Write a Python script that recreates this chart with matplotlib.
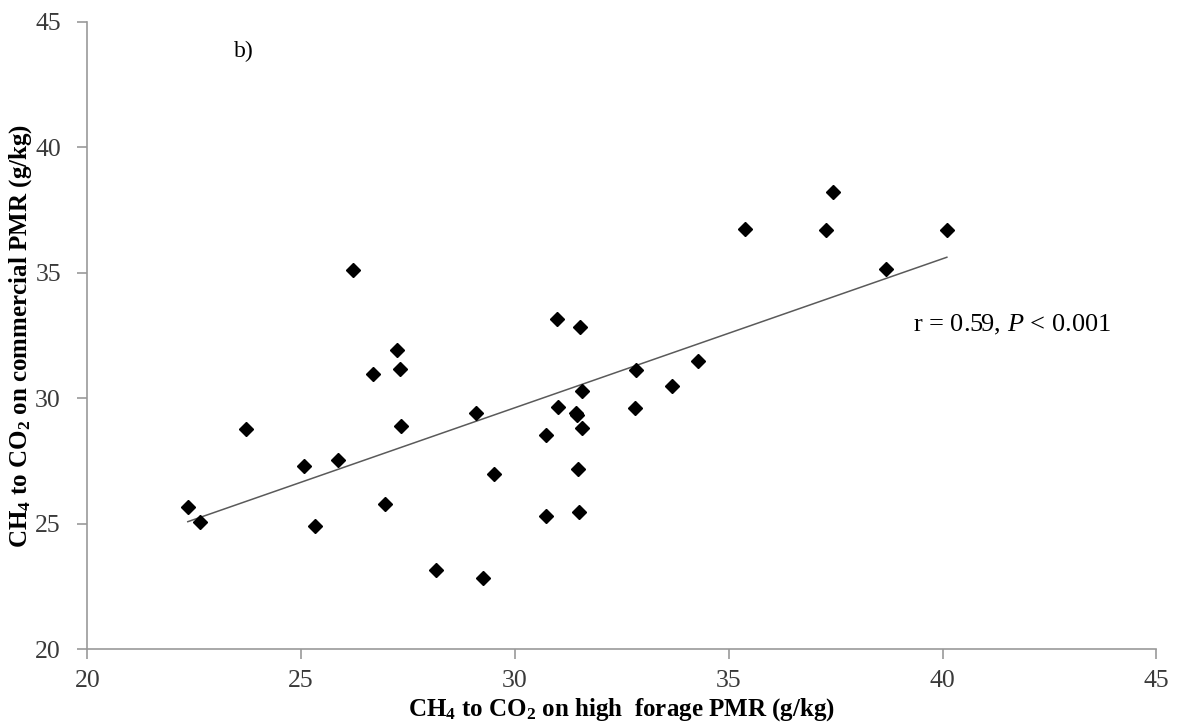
import numpy as np
import matplotlib
matplotlib.use("Agg")
import matplotlib.pyplot as plt

plt.rcParams['font.family'] = ['Liberation Serif', 'DejaVu Serif']
plt.rcParams['mathtext.fontset'] = 'custom'
plt.rcParams['mathtext.rm'] = 'Liberation Serif'
plt.rcParams['mathtext.it'] = 'Liberation Serif:italic'
plt.rcParams['mathtext.bf'] = 'Liberation Serif:bold'

# CH4 to CO2, high forage PMR (x) vs commercial PMR (y), g/kg
high_forage = [22.35, 22.64, 23.71, 25.07, 25.86, 25.33, 26.96, 27.34, 26.21,
               27.25, 27.31, 26.68, 29.09, 30.98, 31.52, 32.83, 34.29, 33.67,
               31.56, 31.00, 31.42, 31.45, 32.81, 31.56, 30.72, 29.51, 31.47,
               30.73, 31.49, 28.15, 29.26, 37.43, 37.27, 40.10, 38.67, 35.39]
commercial = [25.66, 25.06, 28.77, 27.32, 27.52, 24.92, 25.78, 28.88, 35.10,
              31.92, 31.18, 30.95, 29.43, 33.17, 32.84, 31.14, 31.48, 30.50,
              30.27, 29.67, 29.43, 29.35, 29.61, 28.82, 28.54, 27.00, 27.18,
              25.31, 25.46, 23.16, 22.83, 38.22, 36.72, 36.72, 35.15, 36.76]

x = np.array(high_forage)
y = np.array(commercial)

fig = plt.figure(figsize=(11.8, 7.27), dpi=100)
ax = fig.add_axes([0.074, 0.107, 0.906, 0.863])

# linear trendline over the data range
slope, icpt = np.polyfit(x, y, 1)
xl = np.array([x.min(), x.max()])
ax.plot(xl, slope * xl + icpt, color='#5a5a5a', lw=1.1)

ax.plot(x, y, 'D', color='black', markersize=7.5, linestyle='none')

ax.set_xlim(20, 45)
ax.set_ylim(20, 45)
ax.set_xticks([20, 25, 30, 35, 40, 45])
ax.set_yticks([20, 25, 30, 35, 40, 45])

for s in ['top', 'right']:
    ax.spines[s].set_visible(False)
for s in ['left', 'bottom']:
    ax.spines[s].set_color('#999999')
    ax.spines[s].set_linewidth(1.2)
ax.tick_params(direction='out', length=7, width=1.2, color='#999999',
               labelsize=18.5, labelcolor='#3a3a3a')
ax.tick_params(axis='y', pad=12)
ax.tick_params(axis='x', pad=8)

ax.set_xlabel(r'CH$_\mathbf{4}$ to CO$_\mathbf{2}$ on high  forage PMR (g/kg)',
              fontsize=18, fontweight='bold', labelpad=3)
ax.set_ylabel(r'CH$_\mathbf{4}$ to CO$_\mathbf{2}$ on commercial PMR (g/kg)',
              fontsize=18, fontweight='bold', labelpad=1)

ax.text(0.137, 0.952, 'b)', transform=ax.transAxes, fontsize=17, va='center')
ax.text(0.772, 0.517, r'r = 0.59, $P$ < 0.001', transform=ax.transAxes,
        fontsize=19, va='center')

fig.savefig('out.png', dpi=100)
